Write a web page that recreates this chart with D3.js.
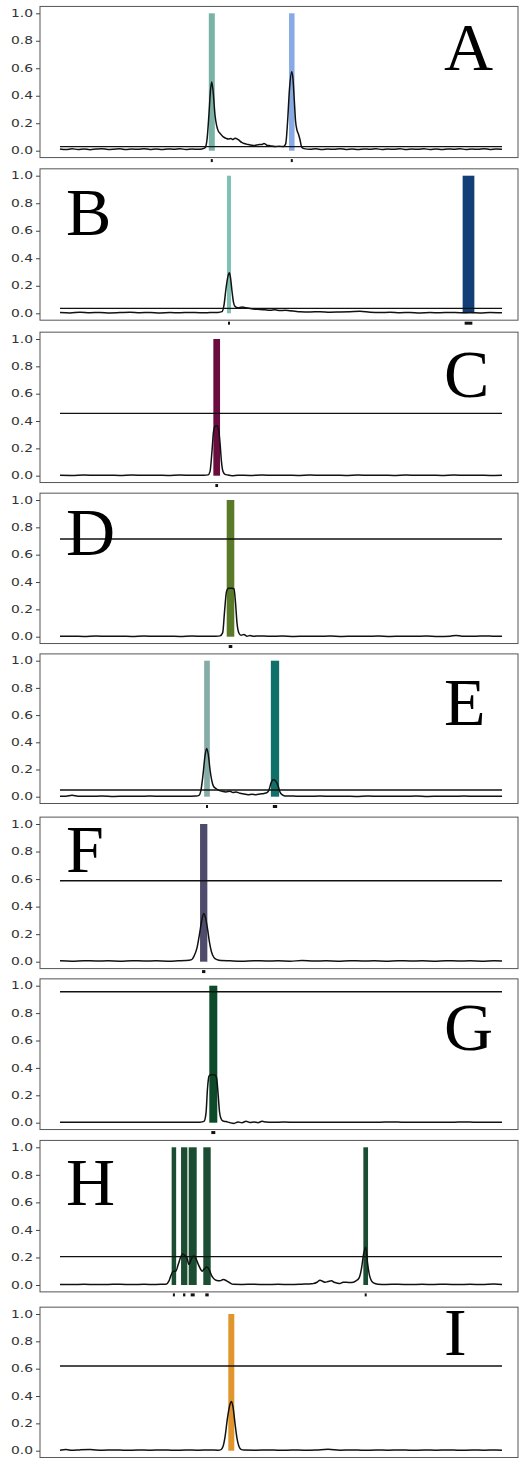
<!DOCTYPE html>
<html>
<head>
<meta charset="utf-8">
<script src="https://cdn.jsdelivr.net/npm/d3@7"></script>
<style>
  html, body { margin: 0; padding: 0; background: #fff; }
  svg { display: block; }
</style>
</head>
<body>
<svg id="chart" width="520" height="1458"></svg>
<script>
// ---------------- DATA ----------------
const panelLetters = ["A", "B", "C", "D", "E", "F", "G", "H", "I"];

const yTicks = [0.0, 0.2, 0.4, 0.6, 0.8, 1.0];

// horizontal threshold level of each panel
const thresholds = [0.03, 0.036, 0.456, 0.715, 0.049, 0.588, 0.956, 0.206, 0.62];

// highlighted windows: [center, width] in sample units
const windowsA = [[151.8, 6], [231.8, 5.5]];
const windowsB = [[169, 4], [408.5, 11.7]];
const windowsC = [[156.7, 6.7]];
const windowsD = [[170.5, 7.6]];
const windowsE = [[147, 5.7], [215, 8.3]];
const windowsF = [[143.7, 7.3]];
const windowsG = [[153.3, 8]];
const windowsH = [[113.9, 4.5], [124.2, 6.3], [132.7, 8], [147, 7.4], [305.7, 4.7]];
const windowsI = [[171.3, 6]];

// signal traces: [sample, value]
const traceA = [[0,.012],[6,.008],[12,.014],[18,.009],[24,.013],[30,.007],[36,.012],[42,.015],[48,.009],[54,.011],[60,.014],[66,.008],[72,.012],[78,.01],[84,.015],[90,.009],[96,.012],[102,.008],[108,.013],[114,.01],[120,.014],[126,.009],[132,.012],[138,.01],[142,.013],
  [145,.02],[147,.08],[149,.27],[150.5,.44],[151.7,.5],[153,.44],[155,.26],[156.7,.18],[158.5,.14],[160,.127],[163.3,.1],[166,.09],[168.3,.085],[171,.088],[173,.082],[175,.09],[178.3,.08],[181.7,.06],[185,.05],[188,.045],[191.7,.04],[195,.038],[198,.044],[201.7,.045],[204,.052],[205,.05],[206.7,.04],[210,.036],[215,.03],[219,.033],[223.3,.03],[225.7,.05],[227.5,.2],[229.5,.45],[231.7,.575],[233,.52],[234.2,.38],[235.5,.22],[237,.15],[238.5,.12],[240,.08],[241.7,.025],
  [244,.015],[250,.01],[256,.014],[262,.008],[268,.012],[274,.01],[280,.015],[286,.009],[292,.012],[298,.008],[304,.013],[310,.01],[316,.014],[322,.009],[328,.012],[334,.01],[340,.015],[346,.008],[352,.012],[358,.01],[364,.014],[370,.009],[376,.012],[382,.008],[388,.013],[394,.01],[400,.014],[406,.009],[412,.012],[418,.01],[424,.015],[430,.009],[436,.012],[442,.01]];

const traceB = [[0,.005],[10,.003],[20,.007],[30,.004],[40,.006],[50,.003],[60,.005],[70,.007],[80,.004],[90,.006],[100,.003],[110,.005],[120,.004],[130,.006],[140,.004],[150,.005],[158,.006],
  [162,.012],[164,.06],[166,.18],[168,.27],[169.3,.295],[170.5,.26],[172,.16],[173.5,.08],[175,.05],[178,.04],[182,.045],[186,.04],[190,.035],[195,.03],[200,.028],[205,.025],[210,.022],[215,.025],[220,.02],[225,.022],[230,.018],[235,.015],[240,.012],[250,.01],[260,.012],[270,.008],[280,.01],[290,.012],[300,.015],[310,.008],
  [320,.005],[330,.007],[340,.004],[350,.006],[360,.003],[370,.005],[380,.004],[390,.006],[400,.004],[410,.005],[420,.003],[430,.006],[442,.004]];

const traceC = [[0,.003],[12,.002],[24,.005],[36,.003],[48,.004],[60,.002],[72,.005],[84,.003],[96,.004],[108,.002],[120,.005],[132,.003],[144,.004],
  [148,.006],[150,.03],[152,.18],[153.5,.32],[155,.36],[157,.365],[158.5,.34],[160,.24],[161.5,.1],[163,.03],[165,.01],[168,.005],[172,0],[178,.004],
  [190,.002],[202,.005],[214,.003],[226,.004],[238,.002],[250,.005],[262,.003],[274,.004],[286,.002],[298,.005],[310,.003],[322,.004],[334,.002],[346,.005],[358,.003],[370,.004],[382,.002],[394,.005],[406,.003],[418,.004],[430,.002],[442,.004]];

const traceD = [[0,.003],[12,.004],[24,.002],[36,.005],[48,.003],[60,.004],[72,.002],[84,.005],[96,.003],[108,.004],[120,.002],[132,.005],[144,.003],[156,.004],
  [160,.006],[162.7,.03],[164.5,.18],[166.5,.33],[168.5,.355],[172,.355],[174,.35],[175.5,.25],[177,.1],[179,.025],[181,.01],[184,.016],[187,.004],[190,.008],[194,.003],[198,.006],
  [210,.003],[222,.005],[234,.002],[246,.004],[258,.003],[270,.005],[282,.002],[294,.004],[306,.003],[318,.005],[330,.002],[342,.004],[354,.003],[366,.005],[378,.002],[390,.004],[396,.009],[402,.004],[414,.003],[426,.006],[434,.003],[442,.004]];

const traceE = [[0,.004],[6,.003],[12,.01],[18,.004],[30,.003],[42,.005],[54,.002],[66,.004],[78,.003],[90,.005],[102,.003],[114,.004],[126,.003],[136,.005],
  [139,.01],[141,.05],[143,.16],[145,.3],[146.7,.355],[148.3,.31],[150,.2],[151.5,.13],[153.3,.08],[156,.06],[158,.05],[162,.04],[166,.035],[170,.04],[173,.03],[176,.035],[180,.025],[184,.02],[188,.015],[192,.018],[196,.015],[200,.02],[204,.024],[207,.03],[209,.05],[211,.1],[213,.125],[215,.12],[217,.1],[218.5,.07],[220,.035],[222,.015],[225,.006],
  [236,.004],[248,.003],[260,.005],[272,.003],[284,.004],[296,.002],[308,.005],[320,.003],[332,.004],[344,.003],[356,.005],[368,.002],[380,.004],[392,.003],[404,.005],[416,.003],[428,.004],[442,.003]];

const traceF = [[0,.006],[12,.004],[24,.007],[36,.005],[48,.006],[60,.004],[72,.007],[84,.005],[96,.006],[108,.004],[118,.006],[126,.008],
  [131.7,.015],[134,.04],[137,.1],[139.5,.2],[141.5,.29],[143.7,.35],[145.5,.32],[147.5,.24],[149.5,.14],[151.5,.07],[154,.03],[157,.015],[161,.008],
  [170,.006],[182,.004],[194,.007],[206,.005],[218,.006],[230,.004],[242,.008],[254,.005],[266,.006],[278,.004],[290,.007],[302,.005],[314,.006],[326,.004],[338,.007],[350,.005],[362,.006],[374,.004],[386,.007],[398,.005],[410,.006],[422,.004],[434,.007],[442,.005]];

const traceG = [[0,.004],[12,.004],[24,.003],[36,.004],[48,.004],[60,.003],[72,.004],[84,.004],[96,.003],[108,.004],[120,.004],[132,.003],[140,.004],
  [144,.01],[146,.07],[147.5,.25],[149,.34],[150.5,.35],[154.5,.35],[156.5,.33],[158,.22],[159.5,.08],[161,.03],[163,.012],[166,.008],[170,.0],[174,-.005],[178,.005],[182,.0],[186,.01],[190,.002],[194,.006],[198,.0],[202,.01],[206,.005],[212,.003],
  [224,.005],[236,.003],[248,.004],[260,.003],[272,.004],[284,.003],[296,.004],[308,.003],[320,.004],[332,.006],[344,.003],[356,.004],[368,.003],[380,.004],[392,.003],[404,.006],[416,.003],[428,.004],[442,.003]];

const traceH = [[0,.004],[12,.003],[24,.005],[36,.003],[48,.004],[60,.006],[72,.003],[84,.005],[96,.004],[102,.005],[106,.006],
  [109,.03],[111,.07],[113.3,.1],[115.7,.1],[118.3,.15],[120.5,.2],[122.7,.225],[124.7,.215],[126.7,.2],[129,.15],[131.7,.195],[133.5,.21],[135,.205],[138.3,.15],[142.3,.1],[144.5,.12],[146.7,.13],[149.3,.11],[151.5,.07],[153.3,.05],[156,.035],[160,.03],[163.3,.04],[166.7,.03],[170,.015],[173.3,.005],
  [182,.004],[194,.006],[206,.003],[218,.005],[230,.004],[242,.006],[250,.008],[253,.01],[257,.02],[260,.035],[263,.025],[265,.02],[268,.025],[271.7,.03],[274,.02],[276.7,.015],[280,.01],[283,.02],[286.7,.02],[290,.018],[293.3,.02],[296,.03],[299,.05],[301.5,.12],[303.5,.22],[305.7,.275],[307.5,.16],[309.5,.07],[311.5,.03],[313.5,.015],[318,.006],
  [326,.004],[338,.006],[350,.003],[362,.005],[374,.004],[386,.006],[398,.003],[410,.005],[422,.004],[434,.007],[442,.004]];

const traceI = [[0,.004],[6,.008],[12,.003],[20,.006],[30,.008],[42,.004],[54,.006],[66,.003],[78,.005],[90,.004],[102,.006],[114,.003],[126,.005],[138,.004],[150,.006],[158,.004],
  [161,.008],[163,.03],[165,.1],[167.5,.24],[170,.34],[171.5,.36],[173,.32],[175,.2],[177,.09],[179,.03],[181,.01],[184,.005],
  [196,.004],[208,.006],[220,.003],[232,.005],[244,.004],[256,.006],[268,.01],[280,.004],[292,.006],[304,.003],[316,.005],[328,.004],[340,.006],[352,.003],[364,.005],[376,.004],[388,.006],[400,.003],[412,.005],[424,.004],[436,.006],[442,.004]];

const traces = [traceA, traceB, traceC, traceD, traceE, traceF, traceG, traceH, traceI];
const windows = [windowsA, windowsB, windowsC, windowsD, windowsE, windowsF, windowsG, windowsH, windowsI];

// ---------------- STYLE / LAYOUT ----------------
const windowColors = [
  ["#7ab2a8", "#88aae4"],
  ["#7fc2b3", "#123f78"],
  ["#6a0c3e"],
  ["#5b7a28"],
  ["#86aca7", "#10706a"],
  ["#4d4c6c"],
  ["#0d4a29"],
  ["#1a4d31", "#1a4d31", "#1a4d31", "#1a4d31", "#1a4d31"],
  ["#e0952d"]
];
// pixel rows of value 1.0 and 0.0 for each panel
const rowOne  = [13.3, 175.7, 339, 500, 660.7, 824, 985.7, 1147.3, 1314];
const rowZero = [150.7, 313.3, 475.7, 636.7, 796.7, 961.7, 1122.7, 1285, 1450.7];
// letter placement: side and baseline offset below the 1.0 row
const letterSide = ["r", "l", "r", "l", "r", "l", "r", "l", "r"];
const letterDrop = [57, 59, 58, 55, 64, 48, 64, 58, 41];

const frameLeft = 40, frameRight = 518;
const dataLeft = 60, dataRight = 502;

const svg = d3.select("#chart");
const x = d3.scaleLinear().domain([0, 442]).range([dataLeft, dataRight]);

panelLetters.forEach((letter, i) => {
  const y = d3.scaleLinear().domain([0, 1]).range([rowZero[i], rowOne[i]]);
  const g = svg.append("g");

  const fTop = y(1.05), fBot = y(-0.05);

  // highlighted windows
  g.selectAll("rect.win").data(windows[i]).join("rect")
    .attr("class", "win")
    .attr("x", d => x(d[0] - d[1] / 2))
    .attr("width", d => x(d[1]) - x(0))
    .attr("y", y(1))
    .attr("height", y(0) - y(1))
    .attr("fill", (d, j) => windowColors[i][j]);

  // threshold line
  g.append("line")
    .attr("x1", x(0)).attr("x2", x(442))
    .attr("y1", y(thresholds[i])).attr("y2", y(thresholds[i]))
    .attr("stroke", "#111").attr("stroke-width", 1.4);

  // trace
  const line = d3.line().x(d => x(d[0])).y(d => y(d[1])).curve(d3.curveMonotoneX);
  g.append("path")
    .attr("d", line(traces[i]))
    .attr("fill", "none")
    .attr("stroke", "#111")
    .attr("stroke-width", 1.5)
    .attr("stroke-linejoin", "round");

  // frame
  g.append("rect")
    .attr("x", frameLeft).attr("y", fTop)
    .attr("width", frameRight - frameLeft).attr("height", fBot - fTop)
    .attr("fill", "none").attr("stroke", "#555").attr("stroke-width", 1);

  // x tick marks under each window
  g.selectAll("rect.xt").data(windows[i]).join("rect")
    .attr("class", "xt")
    .attr("x", d => { const w = Math.max(2, (x(d[1]) - x(0)) - 4); return x(d[0]) - w / 2; })
    .attr("width", d => Math.max(2, (x(d[1]) - x(0)) - 4))
    .attr("y", fBot + 1.5)
    .attr("height", 3)
    .attr("fill", "#111");

  // y axis
  const ax = g.append("g")
    .attr("transform", `translate(${frameLeft},0)`)
    .call(d3.axisLeft(y).tickValues(yTicks).tickFormat(d3.format(".1f")).tickSize(4).tickPadding(3));
  ax.select(".domain").remove();
  ax.selectAll(".tick line").attr("stroke", "#444");
  ax.selectAll(".tick text")
    .attr("fill", "#333")
    .style("font-family", "DejaVu Sans, sans-serif")
    .style("font-size", "10px")
    .attr("textLength", 22)
    .attr("lengthAdjust", "spacingAndGlyphs");

  // panel letter
  g.append("text")
    .attr("x", letterSide[i] === "r" ? 444 : 66)
    .attr("y", rowOne[i] + letterDrop[i])
    .attr("font-family", "Liberation Serif, Times New Roman, serif")
    .attr("font-size", 68)
    .attr("fill", "#000")
    .text(letter);
});
</script>
</body>
</html>
